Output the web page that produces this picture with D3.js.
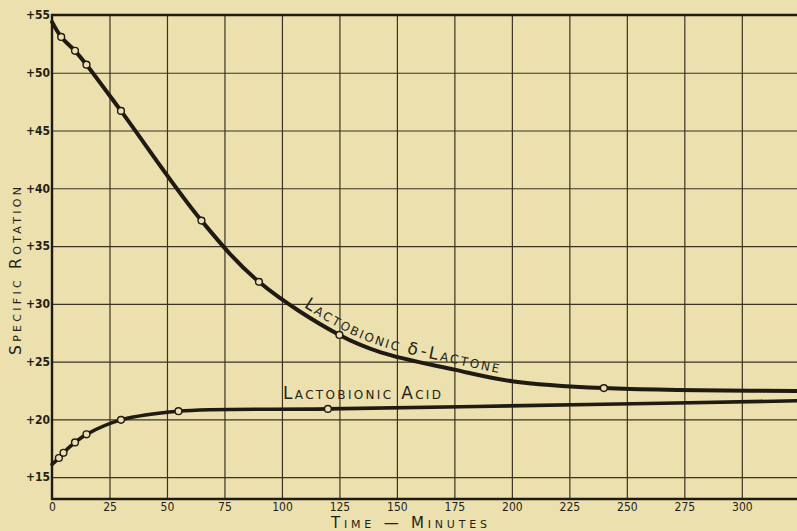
<!DOCTYPE html>
<html>
<head>
<meta charset="utf-8">
<script src="https://cdn.jsdelivr.net/npm/d3@7"></script>
<style>
  body { margin: 0; background: #ebe0ae; }
  svg { display: block; }
  .grid line { stroke: #3a3322; stroke-width: 1.2; }
  .grid path { display: none; }
  .tick text { fill: #241f16; font-family: "DejaVu Sans Condensed", "DejaVu Sans", sans-serif; }
  .label { fill: #241f16; font-family: "DejaVu Sans", sans-serif; font-variant: small-caps; }
  .curve { fill: none; stroke: #1f1a12; stroke-linecap: round; }
  .dot { fill: #ebe0ae; stroke: #1f1a12; stroke-width: 1.4; }
</style>
</head>
<body>
<svg id="chart"></svg>
<script>
const width = 797, height = 531;
const plotLeft = 52, plotRight = 797, plotTop = 15, plotBottom = 499;

// values
const xTicks = [0, 25, 50, 75, 100, 125, 150, 175, 200, 225, 250, 275, 300];
const yTicks = [15, 20, 25, 30, 35, 40, 45, 50, 55];

// observed readings (the little circles)
const lactoneTime = [4, 10, 15, 30, 65, 90, 125, 240];
const lactoneRot = [53.1, 51.9, 50.7, 46.7, 37.2, 31.9, 27.3, 22.7];
const acidTime = [3, 5, 10, 15, 30, 55, 120];
const acidRot = [16.65, 17.1, 18.0, 18.7, 19.95, 20.7, 20.9];

// the smooth hand-drawn curves, traced through the readings
const lactoneCurveTime = [0, 4, 10, 15, 30, 65, 90, 125, 143, 175, 200, 240, 324];
const lactoneCurveRot = [54.4, 53.1, 51.9, 50.7, 46.7, 37.2, 31.9, 27.3, 25.8, 24.3, 23.3, 22.7, 22.45];
const acidCurveTime = [0, 3, 5, 10, 15, 30, 55, 120, 240, 324];
const acidCurveRot = [16.1, 16.65, 17.1, 18.0, 18.7, 19.95, 20.7, 20.9, 21.3, 21.6];

const x = d3.scaleLinear()
  .domain([0, 324])
  .range([plotLeft, plotRight]);

const y = d3.scaleLinear()
  .domain([13.1, 55])
  .range([plotBottom, plotTop]);

const svg = d3.select("#chart")
  .attr("width", width)
  .attr("height", height);

// grid
svg.append("g")
  .attr("class", "grid")
  .attr("transform", "translate(0," + plotBottom + ")")
  .call(d3.axisBottom(x).tickValues(xTicks.slice(1)).tickSize(-(plotBottom - plotTop)).tickFormat(""));

svg.append("g")
  .attr("class", "grid")
  .attr("transform", "translate(" + plotLeft + ",0)")
  .call(d3.axisLeft(y).tickValues(yTicks).tickSize(-(plotRight - plotLeft)).tickSizeOuter(0).tickFormat(""));

// tick labels
const xAxis = svg.append("g")
  .attr("transform", "translate(0," + plotBottom + ")")
  .call(d3.axisBottom(x).tickValues(xTicks).tickSize(0).tickPadding(3));
xAxis.select(".domain").remove();
xAxis.selectAll("text").attr("font-size", 12);

const yAxis = svg.append("g")
  .attr("transform", "translate(" + plotLeft + ",0)")
  .call(d3.axisLeft(y).tickValues(yTicks).tickSize(0).tickPadding(2).tickFormat(d => "+" + d));
yAxis.select(".domain").remove();
yAxis.selectAll("text").attr("font-size", 12).attr("font-weight", "bold");

// frame: left, top, bottom
svg.append("path")
  .attr("d", "M" + plotRight + "," + plotTop + "H" + plotLeft + "V" + plotBottom + "H" + plotRight)
  .attr("fill", "none")
  .attr("stroke", "#1f1a12")
  .attr("stroke-width", 2.4);

const line = d3.line()
  .x(d => x(d[0]))
  .y(d => y(d[1]))
  .curve(d3.curveCatmullRom.alpha(0.5));

const lactonePath = svg.append("path")
  .datum(d3.zip(lactoneCurveTime, lactoneCurveRot))
  .attr("id", "lactoneCurve")
  .attr("class", "curve")
  .attr("stroke-width", 4)
  .attr("d", line);

svg.append("path")
  .datum(d3.zip(acidCurveTime, acidCurveRot))
  .attr("class", "curve")
  .attr("stroke-width", 3.6)
  .attr("d", line);

svg.selectAll(".dot.lac")
  .data(d3.zip(lactoneTime, lactoneRot))
  .enter().append("circle")
  .attr("class", "dot lac")
  .attr("cx", d => x(d[0]))
  .attr("cy", d => y(d[1]))
  .attr("r", 3.4);

svg.selectAll(".dot.acid")
  .data(d3.zip(acidTime, acidRot))
  .enter().append("circle")
  .attr("class", "dot acid")
  .attr("cx", d => x(d[0]))
  .attr("cy", d => y(d[1]))
  .attr("r", 3.4);

// curve labels
svg.append("text")
  .attr("class", "label")
  .attr("x", 283)
  .attr("y", 399)
  .attr("font-size", 17)
  .attr("textLength", 158)
  .attr("lengthAdjust", "spacing")
  .text("Lactobionic Acid");

// find where the lactone curve reaches x = 300
const node = lactonePath.node();
const total = node.getTotalLength();
let startLen = 0;
for (let l = 0; l < total; l += 0.5) {
  if (node.getPointAtLength(l).x >= 300) { startLen = l; break; }
}

// lettering along the curve, one word at a time
function alongCurve(word, offset, spacing, variant) {
  const t = svg.append("text")
    .attr("class", "label")
    .attr("font-size", 17)
    .attr("dy", -6)
    .attr("letter-spacing", spacing)
    .style("font-variant", variant);
  t.append("textPath")
    .attr("href", "#lactoneCurve")
    .attr("startOffset", offset)
    .text(word);
  return t.node().getComputedTextLength();
}
let pos = startLen;
pos += alongCurve("Lactobionic", pos, 2.2, "small-caps") + 7;
pos += alongCurve("δ", pos, 0, "normal") + 3;
alongCurve("-Lactone", pos, 2.2, "small-caps");

// axis titles
svg.append("text")
  .attr("class", "label")
  .attr("text-anchor", "middle")
  .attr("transform", "translate(21,271) rotate(-90)")
  .attr("font-size", 15.5)
  .attr("textLength", 168)
  .attr("lengthAdjust", "spacing")
  .text("Specific  Rotation");

svg.append("text")
  .attr("class", "label")
  .attr("text-anchor", "middle")
  .attr("x", 409)
  .attr("y", 527.5)
  .attr("font-size", 15)
  .attr("textLength", 156)
  .attr("lengthAdjust", "spacing")
  .text("Time — Minutes");
</script>
</body>
</html>
